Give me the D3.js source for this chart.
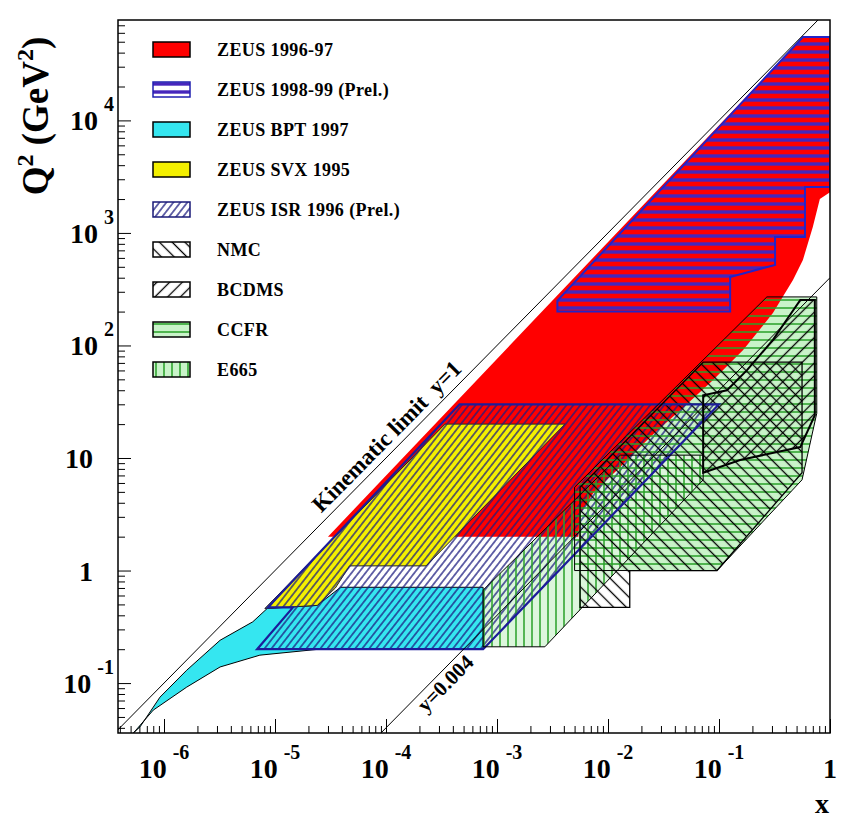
<!DOCTYPE html>
<html>
<head>
<meta charset="utf-8">
<script src="https://cdn.jsdelivr.net/npm/d3@7"></script>
<style>
body { margin:0; background:#fff; }
text { font-family:"Liberation Serif","DejaVu Serif",serif; font-weight:bold; }
</style>
</head>
<body>
<script>
// axis ranges and ticks
var xMin = 3.85e-7, xMax = 1;
var qMin = 0.036, qMax = 78000;
var xTicks = [1e-6, 1e-5, 1e-4, 1e-3, 1e-2, 1e-1, 1];
var xTickBase = ["10","10","10","10","10","10","1"];
var xTickExp = ["-6","-5","-4","-3","-2","-1",""];
var yTicks = [0.1, 1, 10, 100, 1000, 10000];
var yTickBase = ["10","1","10","10","10","10"];
var yTickExp = ["-1","","","2","3","4"];

// regions in the (x, Q^2) plane, [x, Q2] pairs
var zeus9697 = [[3.0e-5,2],[0.57,5.5e4],[1,5.5e4],[1,2300],[0.81,2000],[0.70,1130],[0.57,575],
  [0.464,382],[0.306,194],[0.165,91],[0.088,49],[0.0474,28],[0.024,15.4],[0.0129,8.3],
  [0.0074,4.9],[0.0056,3.2],[0.0054,2]];
var zeus9899 = [[3.5e-3,200],[3.5e-3,250],[0.57,5.5e4],[1,5.5e4],[1,2560],[0.595,2560],
  [0.595,920],[0.32,920],[0.32,520],[0.126,406],[0.126,200]];
var bpt = [[5.3e-7,0.036],[8.0e-7,0.0575],[1.6e-6,0.092],[3.2e-6,0.139],[7.3e-6,0.177],
  [2.5e-5,0.20],[7.5e-4,0.20],[7.5e-4,0.71],[3.9e-5,0.71],[2.4e-5,0.49],[8.5e-6,0.46],
  [6.3e-6,0.35],[3.2e-6,0.24],[1.6e-6,0.13],[9.2e-7,0.075],[6.1e-7,0.041]];
var svx = [[8.1e-6,0.46],[3.4e-4,20],[4.1e-3,20],[2.3e-4,1.1],[4.7e-5,1.1],[3.5e-5,0.70],[2.4e-5,0.49]];
var isr = [[6.9e-6,0.20],[1.45e-5,0.47],[8.6e-6,0.47],[4.6e-4,30],[0.10,30],[7.5e-4,0.20]];
var nmc = [[0.0056,0.47],[0.0157,0.47],[0.0157,1.0],[0.096,1.0],[0.56,7.4],[0.56,71],[0.072,71],[0.0056,5.5]];
var bcdms = [[0.072,7.4],[0.155,9.6],[0.54,12.5],[0.73,24],[0.73,254],[0.54,254],[0.306,112],
  [0.178,60],[0.118,40],[0.072,36]];
var ccfr = [[0.0050,1.0],[0.096,1.0],[0.56,6.4],[0.76,25],[0.76,270],[0.27,270],[0.0050,5.5]];
var e665 = [[7.5e-4,0.67],[7.5e-4,0.21],[2.7e-3,0.21],[0.072,6.4],[0.072,10.6],[0.0129,10.6]];

// kinematic lines Q2 = y*s*x
var sCM = 1e5;
var yLines = [1, 0.004];

var legendNames = ["ZEUS 1996-97","ZEUS 1998-99 (Prel.)","ZEUS BPT 1997","ZEUS SVX 1995",
  "ZEUS ISR 1996 (Prel.)","NMC","BCDMS","CCFR","E665"];

var W = 843, H = 819;
var L = 118, R = 830, T = 20, B = 733;

var svg = d3.select("body").append("svg").attr("width", W).attr("height", H);
svg.append("rect").attr("width", W).attr("height", H).attr("fill", "#fff");

var x = d3.scaleLog().domain([xMin, xMax]).range([L, R]);
var y = d3.scaleLog().domain([qMin, qMax]).range([B, T]);
var line = d3.line().x(function(d){ return x(d[0]); }).y(function(d){ return y(d[1]); });
function poly(p){ return line(p) + "Z"; }

var defs = svg.append("defs");
defs.append("clipPath").attr("id","frame").append("rect")
  .attr("x", L).attr("y", T).attr("width", R-L).attr("height", B-T);

function hatch(id, size, angle, color, width){
  var p = defs.append("pattern").attr("id", id).attr("patternUnits","userSpaceOnUse")
    .attr("width", size).attr("height", size)
    .attr("patternTransform", "rotate(" + angle + ")");
  p.append("line").attr("x1", size/2).attr("x2", size/2).attr("y1", -1).attr("y2", size+1)
    .attr("stroke", color).attr("stroke-width", width);
}
hatch("h9899", 8, 90, "#4626bc", 3.4);
hatch("hisr", 5.5, 38, "#1c1c80", 1.3);
hatch("hnmc", 9, -45, "#000", 1.3);
hatch("hbcdms", 9, 45, "#000", 1.3);
hatch("hccfr", 8, 90, "#28a028", 1.5);
hatch("he665", 8, 0, "#28a028", 1.5);

var lightGreen = "#c9f3c9";
var style = {
  "ZEUS 1996-97":         {fill:"#ff0000", hatch:null,     stroke:"#000"},
  "ZEUS 1998-99 (Prel.)": {fill:"#fff",    hatch:"h9899",  stroke:"#2020b0"},
  "ZEUS BPT 1997":        {fill:"#35e6f0", hatch:null,     stroke:"#000"},
  "ZEUS SVX 1995":        {fill:"#f4f000", hatch:null,     stroke:"#000"},
  "ZEUS ISR 1996 (Prel.)":{fill:"#fff",    hatch:"hisr",   stroke:"#1a1a78"},
  "NMC":                  {fill:"#fff",    hatch:"hnmc",   stroke:"#000"},
  "BCDMS":                {fill:"#fff",    hatch:"hbcdms", stroke:"#000"},
  "CCFR":                 {fill:lightGreen,hatch:"hccfr",  stroke:"#000"},
  "E665":                 {fill:lightGreen,hatch:"he665",  stroke:"#000"}
};

var plot = svg.append("g").attr("clip-path", "url(#frame)");

// solid fills: fixed target first, ZEUS on top
plot.append("path").attr("d", poly(ccfr)).attr("fill", lightGreen);
plot.append("path").attr("d", poly(e665)).attr("fill", "#dcf6dc");
plot.append("path").attr("d", poly(zeus9697)).attr("fill", "#ff0000");
plot.append("path").attr("d", poly(bpt)).attr("fill", "#35e6f0").attr("stroke", "#000").attr("stroke-width", 1);
plot.append("path").attr("d", poly(svx)).attr("fill", "#f4f000").attr("stroke", "#222").attr("stroke-width", 1);

// hatch layers
[[zeus9899,"h9899"],[isr,"hisr"],[e665,"he665"],[ccfr,"hccfr"],[nmc,"hnmc"],[bcdms,"hbcdms"]]
  .forEach(function(r){
    plot.append("path").attr("d", poly(r[0])).attr("fill", "url(#" + r[1] + ")");
  });

// outlines
plot.append("path").attr("d", poly(zeus9899)).attr("fill","none").attr("stroke","#2323c8").attr("stroke-width",2);
plot.append("path").attr("d", poly(isr)).attr("fill","none").attr("stroke","#1c1c9a").attr("stroke-width",2.2);
plot.append("path").attr("d", poly(e665)).attr("fill","none").attr("stroke","#000").attr("stroke-width",1);
plot.append("path").attr("d", poly(ccfr)).attr("fill","none").attr("stroke","#000").attr("stroke-width",1);
plot.append("path").attr("d", poly(nmc)).attr("fill","none").attr("stroke","#000").attr("stroke-width",1.3);
plot.append("path").attr("d", poly(bcdms)).attr("fill","none").attr("stroke","#000").attr("stroke-width",2);

// kinematic lines
yLines.forEach(function(yy){
  var x0 = qMin / (yy * sCM);
  plot.append("path").attr("d", line([[x0, qMin], [xMax, yy * sCM * xMax]]))
    .attr("stroke", "#000").attr("stroke-width", 1).attr("fill", "none");
});

// rotated labels along the lines
var ang = Math.atan2(y(sCM * 1e-3) - y(sCM * 1e-4), x(1e-3) - x(1e-4)) * 180 / Math.PI;
function lineLabel(yy, xv, off, size, str){
  var px = x(xv), py = y(yy * sCM * xv);
  svg.append("text").attr("transform", "translate(" + px + "," + py + ") rotate(" + ang + ")")
    .attr("dy", off).attr("font-size", size).attr("xml:space", "preserve")
    .text(str);
}
lineLabel(yLines[0], 2.9e-5, -7, 23, "Kinematic limit  y=1");
lineLabel(yLines[1], 1.75e-4, 18, 21, "y=0.004");

// axes: ticks point inwards
var xMinor = [], yMinor = [];
for (var e = -7; e < 1; e++) for (var m = 2; m < 10; m++) {
  var v = m * Math.pow(10, e);
  if (v > xMin && v < xMax) xMinor.push(v);
}
for (var e2 = -2; e2 < 5; e2++) for (var m2 = 2; m2 < 10; m2++) {
  var v2 = m2 * Math.pow(10, e2);
  if (v2 > qMin && v2 < qMax) yMinor.push(v2);
}
function axisG(gen, tr){
  var g = svg.append("g").attr("transform", tr).call(gen);
  g.select(".domain").remove();
  g.selectAll("line").attr("stroke", "#000").attr("stroke-width", 1);
  return g;
}
axisG(d3.axisBottom(x).tickValues(xTicks).tickSize(-14).tickFormat(""), "translate(0," + B + ")");
axisG(d3.axisBottom(x).tickValues(xMinor).tickSize(-7).tickFormat(""), "translate(0," + B + ")");
axisG(d3.axisLeft(y).tickValues(yTicks).tickSize(-13).tickFormat(""), "translate(" + L + ",0)");
axisG(d3.axisLeft(y).tickValues(yMinor).tickSize(-7).tickFormat(""), "translate(" + L + ",0)");

svg.append("rect").attr("x", L).attr("y", T).attr("width", R-L).attr("height", B-T)
  .attr("fill", "none").attr("stroke", "#000").attr("stroke-width", 1.5);

// tick labels with superscript exponents
xTicks.forEach(function(v, i){
  var t = svg.append("text").attr("x", x(v)).attr("y", 778).attr("text-anchor", "middle")
    .attr("font-size", 28);
  t.append("tspan").text(xTickBase[i]);
  if (xTickExp[i]) t.append("tspan").attr("dx", 6).attr("dy", -19).attr("font-size", 20).text(xTickExp[i]);
});
yTicks.forEach(function(v, i){
  var t = svg.append("text").attr("y", y(v) + 10).attr("font-size", 28);
  if (yTickExp[i]) {
    t.attr("x", 114).attr("text-anchor", "end");
    t.append("tspan").text(yTickBase[i]);
    t.append("tspan").attr("dx", 6).attr("dy", -19).attr("font-size", 20).text(yTickExp[i]);
  } else {
    t.attr("x", 93).attr("text-anchor", "end").text(yTickBase[i]);
  }
});

// axis titles
svg.append("text").attr("x", 829).attr("y", 813).attr("text-anchor", "end")
  .attr("font-size", 28).text("x");
var qt = svg.append("text").attr("transform", "translate(48,116) rotate(-90)")
  .attr("text-anchor", "middle").attr("font-size", 37);
qt.append("tspan").text("Q");
qt.append("tspan").attr("dy", -15).attr("font-size", 24).text("2");
qt.append("tspan").attr("dy", 15).text(" (GeV");
qt.append("tspan").attr("dy", -15).attr("font-size", 24).text("2");
qt.append("tspan").attr("dy", 15).text(")");

// legend
var leg = svg.append("g");
legendNames.forEach(function(n, i){
  var st = style[n], yy = 42 + 40 * i;
  leg.append("rect").attr("x", 153).attr("y", yy).attr("width", 37).attr("height", 15)
    .attr("fill", st.fill);
  if (st.hatch) leg.append("rect").attr("x", 153).attr("y", yy).attr("width", 37).attr("height", 15)
    .attr("fill", "url(#" + st.hatch + ")");
  leg.append("rect").attr("x", 153).attr("y", yy).attr("width", 37).attr("height", 15)
    .attr("fill", "none").attr("stroke", st.stroke).attr("stroke-width", 1.5);
  leg.append("text").attr("x", 217).attr("y", yy + 14).attr("font-size", 18)
    .attr("letter-spacing", 0.4).text(n);
});
</script>
</body>
</html>
